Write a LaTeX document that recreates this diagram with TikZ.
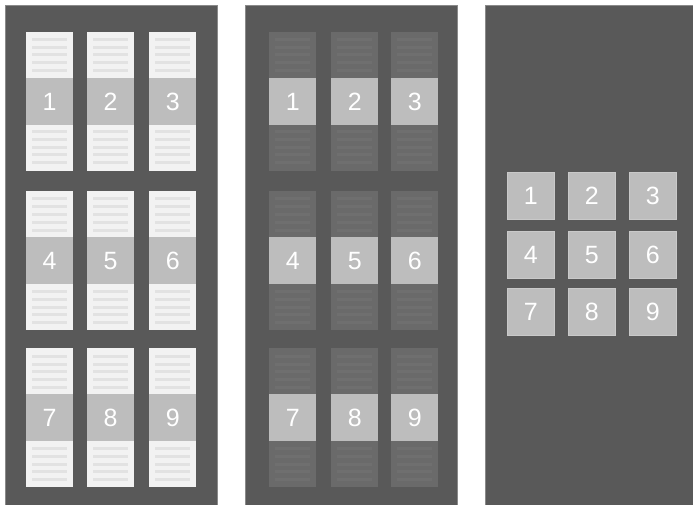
\documentclass[tikz,border=0pt]{standalone}
\usepackage{fontspec}
\setmainfont{Liberation Sans}
\definecolor{panelbg}{HTML}{595959}
\definecolor{paneledge}{HTML}{8A8A8A}
\definecolor{pagefill}{HTML}{F2F2F2}
\definecolor{pageline}{HTML}{E2E2E2}
\definecolor{dimfill}{HTML}{6A6A6A}
\definecolor{dimline}{HTML}{6F6F6F}
\definecolor{bandfill}{HTML}{BDBDBD}
\definecolor{bandedge}{HTML}{C9C9C9}
\begin{document}
\begin{tikzpicture}[x=1pt,y=-1pt,
  panel/.style={fill=panelbg,draw=paneledge,line width=0.5pt},
  band/.style={fill=bandfill,draw=none,minimum width=47pt,minimum height=47pt,inner sep=0pt,
    text=white,font=\fontsize{25}{25}\selectfont,anchor=north west},
  tile/.style={band,draw=bandedge,line width=0.5pt}]
\useasboundingbox (0,0) rectangle (693,505);
\fill[white] (0,0) rectangle (693,505);
% panels
\draw[panel] (5,5) rectangle (217,506);
\draw[panel] (245,5) rectangle (457,506);
\draw[panel] (485,5) rectangle (694,506);
% panel 1 and 2 strips
\foreach \r/\ry in {0/32,1/191,2/348}{
  \foreach \c in {0,1,2}{
    \pgfmathtruncatemacro{\n}{3*\r+\c+1}
    % panel 1
    \pgfmathsetmacro{\xa}{{26,87,149}[\c]}
    \fill[pagefill] (\xa,\ry) rectangle ++(47,139);
    \foreach \dy in {8,16,23,31,39,100,108,116,123,131}{
      \fill[pageline] (\xa+6,\ry+\dy-1.5) rectangle ++(35,3);
    }
    \node[band] (a\n) at (\xa,\ry+46) {\n};
    % panel 2
    \pgfmathsetmacro{\xb}{{269,331,391}[\c]}
    \fill[dimfill] (\xb,\ry) rectangle ++(47,139);
    \foreach \dy in {8,16,23,31,39,100,108,116,123,131}{
      \fill[dimline] (\xb+6,\ry+\dy-1.5) rectangle ++(35,3);
    }
    \node[band] (b\n) at (\xb,\ry+46) {\n};
  }
}
% panel 3 tiles
\foreach \r/\ry in {0/172,1/231,2/288}{
  \foreach \c/\cx in {0/507,1/568,2/629}{
    \pgfmathtruncatemacro{\n}{3*\r+\c+1}
    \node[tile] (c\n) at (\cx,\ry) {\n};
  }
}
\end{tikzpicture}
\end{document}
